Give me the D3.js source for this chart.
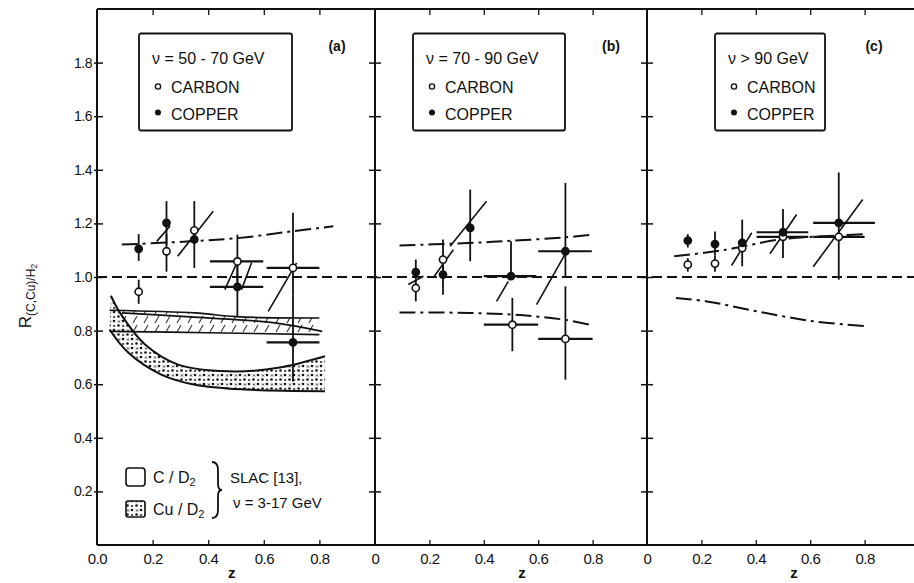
<!DOCTYPE html>
<html><head><meta charset="utf-8">
<script src="https://cdn.jsdelivr.net/npm/d3@7"></script>
<style>
body{margin:0;background:#fff}
svg{display:block}
text{font-family:"Liberation Sans",Arial,sans-serif;fill:#111}
</style>
</head><body>
<svg id="chart" width="914" height="583"></svg>
<script>
// ---------------- data ----------------
const panelTags = ["(a)", "(b)", "(c)"];
const energyLabels = ["\u03bd = 50 - 70 GeV", "\u03bd = 70 - 90 GeV", "\u03bd > 90 GeV"];
const yTicks = [0.2, 0.4, 0.6, 0.8, 1.0, 1.2, 1.4, 1.6, 1.8];
const xTicks = [0, 0.2, 0.4, 0.6, 0.8];
const xTickLabelsA = ["0.0", "0.2", "0.4", "0.6", "0.8"];
const xTickLabelsBC = ["0", "0.2", "0.4", "0.6", "0.8"];

// points: z, R, error low/high in R, error low/high in z
const carbonA = [
  {z:0.15, r:0.945, lo:0.90, hi:0.99},
  {z:0.25, r:1.096, lo:1.02, hi:1.16},
  {z:0.35, r:1.174, lo:1.034, hi:1.283},
  {z:0.505, r:1.058, lo:0.96, hi:1.158, zlo:0.406, zhi:0.598},
  {z:0.705, r:1.034, lo:0.93, hi:1.24, zlo:0.61, zhi:0.80}
];
const copperA = [
  {z:0.15, r:1.105, lo:1.06, hi:1.16},
  {z:0.25, r:1.202, lo:1.12, hi:1.283},
  {z:0.35, r:1.14},
  {z:0.505, r:0.963, lo:0.853, hi:1.06, zlo:0.406, zhi:0.598},
  {z:0.705, r:0.756, lo:0.61, hi:0.93, zlo:0.61, zhi:0.80}
];
const carbonB = [
  {z:0.15, r:0.959, lo:0.909, hi:0.99},
  {z:0.25, r:1.065, lo:1.02, hi:1.14},
  {z:0.505, r:0.822, lo:0.723, hi:0.922, zlo:0.40, zhi:0.60},
  {z:0.70, r:0.769, lo:0.617, hi:0.965, zlo:0.60, zhi:0.80}
];
const copperB = [
  {z:0.15, r:1.018, lo:0.99, hi:1.065},
  {z:0.25, r:1.009, lo:0.934, hi:1.05},
  {z:0.35, r:1.183, lo:1.059, hi:1.326},
  {z:0.50, r:1.003, lo:0.99, hi:1.133, zlo:0.40, zhi:0.593},
  {z:0.70, r:1.096, lo:1.0, hi:1.351, zlo:0.60, zhi:0.797}
];
const carbonC = [
  {z:0.15, r:1.046, lo:1.02, hi:1.07},
  {z:0.25, r:1.05, lo:1.02, hi:1.08},
  {z:0.35, r:1.108, lo:1.04, hi:1.214},
  {z:0.50, r:1.15, lo:1.071, hi:1.254, zlo:0.403, zhi:0.593},
  {z:0.705, r:1.15, lo:0.99, hi:1.39, zlo:0.611, zhi:0.80}
];
const copperC = [
  {z:0.15, r:1.136, lo:1.11, hi:1.16},
  {z:0.25, r:1.123, lo:1.08, hi:1.17},
  {z:0.35, r:1.127},
  {z:0.50, r:1.167, zlo:0.403, zhi:0.593},
  {z:0.705, r:1.202, zlo:0.611, zhi:0.838}
];

// slanted systematic segments: [z1, R1, z2, R2]
const slantsA = [[0.215,1.133,0.263,1.19],[0.29,1.077,0.418,1.245],[0.46,0.953,0.503,1.053],[0.52,0.953,0.556,1.053],[0.616,0.872,0.718,1.053]];
const slantsB = [[0.122,0.972,0.178,1.003],[0.214,0.997,0.288,1.102],[0.276,1.115,0.41,1.283],[0.447,0.909,0.49,0.984],[0.594,0.897,0.705,1.096]];
const slantsC = [[0.311,1.043,0.385,1.165],[0.452,1.087,0.55,1.233],[0.611,1.038,0.793,1.289]];

// theory curves (dash-dot)
const theoryUpperA = [[0.089,1.121],[0.335,1.133],[0.514,1.146],[0.706,1.171],[0.85,1.189]];
const theoryUpperB = [[0.09,1.118],[0.3,1.125],[0.5,1.135],[0.7,1.148],[0.8,1.158]];
const theoryLowerB = [[0.09,0.868],[0.35,0.866],[0.5,0.86],[0.6,0.852],[0.7,0.84],[0.8,0.82]];
const theoryUpperC = [[0.1,1.077],[0.28,1.10],[0.49,1.14],[0.7,1.155],[0.81,1.16]];
const theoryLowerC = [[0.106,0.922],[0.22,0.909],[0.403,0.872],[0.611,0.835],[0.814,0.816]];

// SLAC bands (panel a)
const cBandUpper = [[0.045,0.876],[0.353,0.866],[0.5,0.852],[0.8,0.847]];
const cBandLower = [[0.045,0.797],[0.4,0.792],[0.8,0.785]];
const cBandInner = [[0.09,0.866],[0.35,0.85],[0.64,0.829],[0.81,0.797]];
const cuBandUpper = [[0.05,0.93],[0.083,0.866],[0.173,0.748],[0.292,0.673],[0.472,0.648],[0.652,0.661],[0.82,0.704]];
const cuBandLower = [[0.045,0.804],[0.113,0.717],[0.231,0.636],[0.353,0.598],[0.532,0.58],[0.82,0.574]];

// ---------------- drawing ----------------
const svg = d3.select("#chart");
const y = d3.scaleLinear().domain([0, 2]).range([545, 9]);
const panelRanges = [[97, 375], [375, 647], [647, 919]];
const xs = panelRanges.map(r => d3.scaleLinear().domain([0, 1]).range(r));

const defs = svg.append("defs");
const hatch = defs.append("pattern").attr("id","hatch").attr("patternUnits","userSpaceOnUse")
  .attr("width",11).attr("height",9);
hatch.append("rect").attr("width",11).attr("height",9).attr("fill","#fff");
hatch.append("line").attr("x1",1).attr("y1",8).attr("x2",5).attr("y2",1).attr("stroke","#333").attr("stroke-width",1.1);
const dots = defs.append("pattern").attr("id","dots").attr("patternUnits","userSpaceOnUse")
  .attr("width",9).attr("height",9);
dots.append("rect").attr("width",9).attr("height",9).attr("fill","#fff");
[[1.5,1.5],[6,6]].forEach(p => dots.append("circle").attr("cx",p[0]).attr("cy",p[1]).attr("r",1.3).attr("fill","#111"));
dots.append("path").attr("d","M5.2,1 L7.2,3 M7.2,1 L5.2,3 M1,5.5 L3,7.5 M3,5.5 L1,7.5").attr("stroke","#222").attr("stroke-width",0.9);

// SLAC bands
const xa = xs[0];
const lineA = d3.line().x(d => xa(d[0])).y(d => y(d[1])).curve(d3.curveCatmullRom);
function bandPath(up, low){
  const a = lineA(up);
  const b = lineA(low.slice().reverse());
  return a + "L" + b.slice(1) + "Z";
}
svg.append("path").attr("d", bandPath(cBandUpper, cBandLower)).attr("fill","url(#hatch)").attr("stroke","none");
svg.append("path").attr("d", bandPath(cuBandUpper, cuBandLower)).attr("fill","url(#dots)").attr("stroke","none");
[cBandUpper, cBandLower, cBandInner].forEach(b => svg.append("path").attr("d", lineA(b))
  .attr("fill","none").attr("stroke","#111").attr("stroke-width",1.7));
[cuBandUpper, cuBandLower].forEach(b => svg.append("path").attr("d", lineA(b))
  .attr("fill","none").attr("stroke","#111").attr("stroke-width",2));

// frame
const frame = svg.append("g").attr("stroke","#111").attr("stroke-width",2).attr("fill","none");
frame.append("line").attr("x1",97).attr("x2",914).attr("y1",y(2)).attr("y2",y(2));
frame.append("line").attr("x1",97).attr("x2",914).attr("y1",y(0)).attr("y2",y(0));
[97, 375, 647].forEach(xv => frame.append("line").attr("x1",xv).attr("x2",xv).attr("y1",y(2)).attr("y2",y(0)));

// y axis (left)
const gLeft = svg.append("g").attr("transform","translate(97,0)")
  .call(d3.axisLeft(y).tickValues(yTicks).tickFormat(d3.format(".1f")).tickSizeInner(3).tickSizeOuter(0).tickPadding(2));
gLeft.select(".domain").remove();
gLeft.selectAll("line").attr("stroke","#111").attr("stroke-width",1.5);
gLeft.selectAll("text").attr("font-size",14).style("letter-spacing","-0.5px").attr("fill","#111");
const gLeftIn = svg.append("g").attr("transform","translate(97,0)")
  .call(d3.axisRight(y).tickValues(yTicks).tickFormat("").tickSizeInner(6).tickSizeOuter(0));
gLeftIn.select(".domain").remove();
gLeftIn.selectAll("line").attr("stroke","#111").attr("stroke-width",1.5);

// dividers with crossing ticks
[375, 647].forEach(xv => {
  [d3.axisLeft, d3.axisRight].forEach(ax => {
    const g = svg.append("g").attr("transform",`translate(${xv},0)`)
      .call(ax(y).tickValues(yTicks).tickFormat("").tickSizeInner(6).tickSizeOuter(0));
    g.select(".domain").remove();
    g.selectAll("line").attr("stroke","#111").attr("stroke-width",1.5);
  });
});

// x axes
xs.forEach((x, i) => {
  const labels = i === 0 ? xTickLabelsA : xTickLabelsBC;
  const gb = svg.append("g").attr("transform",`translate(0,${y(0)})`)
    .call(d3.axisBottom(x).tickValues(xTicks).tickSizeInner(-5).tickSizeOuter(0).tickPadding(8)
      .tickFormat((d, j) => labels[j]));
  gb.select(".domain").remove();
  gb.selectAll("line").attr("stroke","#111").attr("stroke-width",1.3);
  gb.selectAll(".tick").filter(d => d === 0).select("line").remove();
  gb.selectAll("text").attr("font-size",15).style("letter-spacing","-0.5px").attr("fill","#111");
  const gt = svg.append("g").attr("transform",`translate(0,${y(2)})`)
    .call(d3.axisTop(x).tickValues(xTicks.slice(1)).tickSizeInner(-6).tickSizeOuter(0).tickFormat(""));
  gt.select(".domain").remove();
  gt.selectAll("line").attr("stroke","#111").attr("stroke-width",1.3);
  svg.append("text").attr("x", x(i === 0 ? 0.485 : 0.54)).attr("y", 578)
    .attr("text-anchor","middle").attr("font-size",15).attr("font-weight","bold").text("z");
});

// y label
const yl = svg.append("text").attr("transform","translate(31,296) rotate(-90)")
  .attr("text-anchor","middle").attr("font-size",17);
yl.append("tspan").text("R");
yl.append("tspan").attr("font-size",12).attr("dy",4).text("(C,Cu)/H");
yl.append("tspan").attr("font-size",9).attr("dy",2).text("2");

// horizontal reference at 1.0
svg.append("line").attr("x1",97).attr("x2",914).attr("y1",y(1)).attr("y2",y(1))
  .attr("stroke","#111").attr("stroke-width",2.2).attr("stroke-dasharray","10,5");

// panels
const panelData = [
  {carbon:carbonA, copper:copperA, slants:slantsA, theory:[theoryUpperA]},
  {carbon:carbonB, copper:copperB, slants:slantsB, theory:[theoryUpperB, theoryLowerB]},
  {carbon:carbonC, copper:copperC, slants:slantsC, theory:[theoryUpperC, theoryLowerC]}
];
const legendOffsets = [[42, 153], [38, 152], [68, 110]];
const tagOffsets = [240, 236, 227];

panelData.forEach((pd, i) => {
  const x = xs[i];
  const g = svg.append("g");
  const line = d3.line().x(d => x(d[0])).y(d => y(d[1])).curve(d3.curveCatmullRom);
  pd.theory.forEach(t => g.append("path").attr("d", line(t)).attr("fill","none")
    .attr("stroke","#111").attr("stroke-width",2).attr("stroke-dasharray","16,5,3,5"));
  g.selectAll(".slant").data(pd.slants).join("line")
    .attr("x1", d => x(d[0])).attr("y1", d => y(d[1])).attr("x2", d => x(d[2])).attr("y2", d => y(d[3]))
    .attr("stroke","#111").attr("stroke-width",1.6);
  const pts = pd.carbon.map(d => Object.assign({open:true}, d)).concat(pd.copper.map(d => Object.assign({open:false}, d)));
  g.selectAll(".ev").data(pts.filter(d => d.lo !== undefined)).join("line")
    .attr("x1", d => x(d.z)).attr("x2", d => x(d.z)).attr("y1", d => y(d.lo)).attr("y2", d => y(d.hi))
    .attr("stroke","#111").attr("stroke-width",1.8);
  g.selectAll(".eh").data(pts.filter(d => d.zlo !== undefined)).join("line")
    .attr("x1", d => x(d.zlo)).attr("x2", d => x(d.zhi)).attr("y1", d => y(d.r)).attr("y2", d => y(d.r))
    .attr("stroke","#111").attr("stroke-width",2.2);
  g.selectAll(".pt").data(pts).join("circle")
    .attr("cx", d => x(d.z)).attr("cy", d => y(d.r)).attr("r", 3.6)
    .attr("fill", d => d.open ? "#fff" : "#111").attr("stroke","#111").attr("stroke-width",1.6);

  // legend box
  const x0 = panelRanges[i][0];
  const lo = legendOffsets[i];
  const lg = svg.append("g").attr("transform",`translate(${x0 + lo[0]},33.5)`);
  lg.append("rect").attr("width", lo[1]).attr("height", 97).attr("rx",2)
    .attr("fill","#fff").attr("stroke","#111").attr("stroke-width",1.8);
  lg.append("text").attr("x",13).attr("y",30).attr("font-size",16).text(energyLabels[i]);
  lg.append("circle").attr("cx",19).attr("cy",53).attr("r",2.6).attr("fill","#fff").attr("stroke","#111").attr("stroke-width",1.4);
  lg.append("text").attr("x",32).attr("y",59).attr("font-size",16).text("CARBON");
  lg.append("circle").attr("cx",19).attr("cy",79).attr("r",3).attr("fill","#111");
  lg.append("text").attr("x",32).attr("y",86).attr("font-size",16).text("COPPER");
  svg.append("text").attr("x", x0 + tagOffsets[i]).attr("y", 51).attr("text-anchor","middle")
    .attr("font-size",14).attr("font-weight","bold").text(panelTags[i]);
});

// SLAC legend in panel a
const sl = svg.append("g");
sl.append("rect").attr("x",126).attr("y",468).attr("width",19).attr("height",18).attr("rx",3)
  .attr("fill","#fff").attr("stroke","#111").attr("stroke-width",1.6);
sl.append("rect").attr("x",126).attr("y",501).attr("width",19).attr("height",16).attr("rx",2)
  .attr("fill","url(#dots)").attr("stroke","#111").attr("stroke-width",1.6);
const t1 = sl.append("text").attr("x",153).attr("y",483).attr("font-size",16);
t1.append("tspan").text("C / D");
t1.append("tspan").attr("font-size",11).attr("dy",3).text("2");
const t2 = sl.append("text").attr("x",153).attr("y",515).attr("font-size",16);
t2.append("tspan").text("Cu / D");
t2.append("tspan").attr("font-size",11).attr("dy",3).text("2");
sl.append("path").attr("d","M212,462 Q218,462 218,470 L218,484 Q218,490 222,490 Q218,490 218,496 L218,510 Q218,518 212,518")
  .attr("fill","none").attr("stroke","#111").attr("stroke-width",1.8);
sl.append("text").attr("x",230).attr("y",483).attr("font-size",15).text("SLAC [13],");
sl.append("text").attr("x",233).attr("y",508).attr("font-size",15).text("\u03bd = 3-17 GeV");
</script>
</body></html>
